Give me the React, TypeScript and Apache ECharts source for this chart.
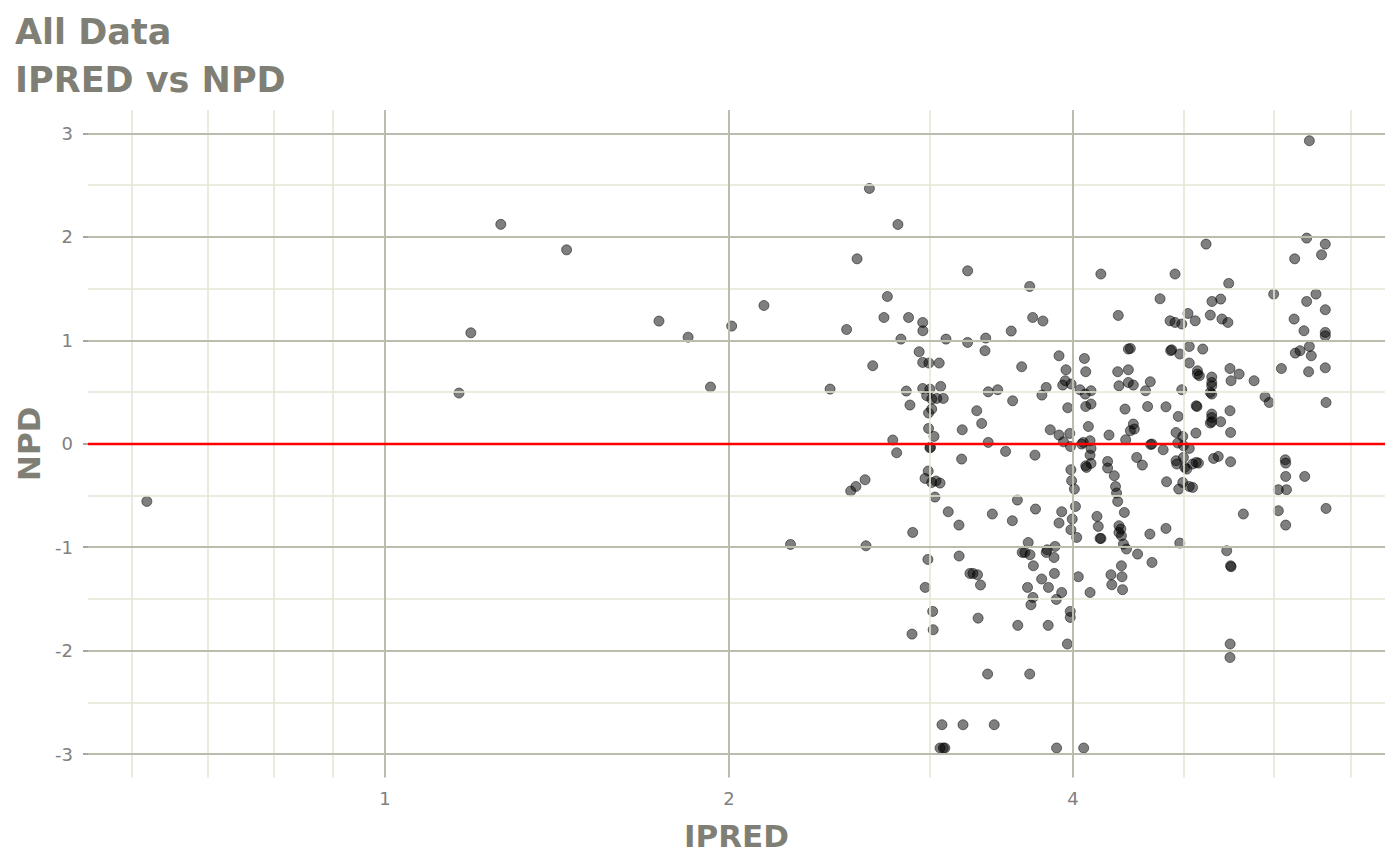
import React, { useEffect, useRef } from "react";
import * as echarts from "echarts";

const ipred: number[] = [
  0.619, 1.189, 1.161, 1.263, 1.442, 1.737, 1.842, 2.011, 2.146, 1.927, 2.264, 2.452,
  2.654, 2.811, 2.589, 3.235, 2.752, 2.733, 2.872, 2.535, 2.955, 2.956, 2.828, 3.097,
  3.235, 2.934, 2.672, 2.955, 2.992, 3.055, 2.859, 2.955, 2.998, 3.064, 2.979, 3.009,
  3.04, 3.08, 2.88, 3.009, 2.99, 3.2, 2.99, 3.023, 2.782, 2.998, 3.002, 2.804, 3.196,
  2.988, 2.969, 3.009, 3.035, 3.06, 2.631, 2.583, 2.556, 3.029, 3.111, 3.179, 2.896, 2.636,
  2.986, 3.18, 3.25, 2.97, 3.015, 3.018, 2.892, 3.072, 3.205, 3.06, 3.09, 3.08,
  3.666, 3.688, 3.765, 3.532, 3.355, 4.231, 4.382,
  3.35, 3.607, 3.889, 4.093, 3.944, 4.104, 4.377, 4.472, 3.938, 3.918, 3.985, 3.79,
  3.757, 3.372, 3.437, 3.542, 3.295, 3.328, 4.057, 4.1, 4.148, 4.104, 4.148, 3.958,
  4.126, 3.821, 3.889, 3.974, 3.924, 3.98, 4.07, 4.14, 4.148, 4.084, 4.14, 4.148, 4.11,
  4.104, 4.301, 4.442, 4.517, 4.526, 4.49, 4.448, 4.63, 4.649, 4.674, 4.388, 4.472,
  4.517, 4.677, 3.372, 3.492, 3.705, 4.289, 4.289, 4.548, 4.6, 3.983, 3.989, 4.011,
  4.347, 4.358, 4.367, 4.377, 3.576, 3.4, 3.709, 3.54, 3.91, 3.889, 4.02, 3.994, 3.983,
  4.03, 4.198, 4.209, 4.224, 4.232, 4.436, 4.388, 4.388, 4.41, 4.405, 4.67, 3.655,
  3.611, 3.63, 3.797, 3.858, 4.428, 4.455, 4.556, 4.472, 4.49,
  3.668, 3.79, 3.85, 3.693, 3.27, 3.3, 3.32, 3.853, 3.755, 3.65, 3.69, 3.675, 3.807,
  3.91, 3.868, 3.978, 3.978, 3.955, 4.043, 4.14, 3.304, 3.579, 3.805, 3.368, 3.666,
  3.413, 3.87, 4.087, 4.318, 4.325, 4.41, 4.415, 4.42, 4.69,
  6.44, 6.405, 6.65, 6.6, 6.252, 5.23, 4.913, 5.474, 4.767, 5.293, 5.386, 5.993, 6.526,
  6.405, 6.65, 5.043, 4.864, 4.913, 4.98, 5.117, 5.275, 5.4, 5.465, 6.245, 6.37, 6.65, 6.65,
  5.056, 5.195, 4.88, 4.87, 4.96, 5.056, 5.14, 5.16, 5.14, 5.29, 5.29, 5.29, 5.275, 5.29,
  5.488, 5.59, 5.5, 5.761, 4.98, 4.824, 5.127, 5.135, 4.945, 5.29, 5.29, 5.275, 5.29,
  5.386, 5.488, 5.124, 5.495, 4.923, 4.99, 4.69, 4.797, 4.94, 5.056, 4.997, 4.997, 4.923,
  4.93, 5.01, 5.03, 5.09, 5.15, 5.127, 5.31, 5.36, 5.495, 4.83, 4.95, 4.99, 5.056, 5.09,
  5.89, 5.94, 6.087, 6.26, 6.32, 6.44, 6.465, 6.43, 6.65, 6.66, 6.135, 6.14, 6.14, 6.38,
  6.05, 6.15, 6.05, 6.66, 6.14, 5.638, 4.824, 4.96, 5.452,
  5.495, 5.5, 5.49, 5.488,
];

const npd: number[] = [
  -0.557, 1.072, 0.49, 2.12, 1.874, 1.185, 1.03, 1.137, 1.336, 0.548, -0.973, 0.528,
  2.467, 2.119, 1.787, 1.671, 1.423, 1.22, 1.22, 1.104, 1.172, 1.092, 1.011, 1.011,
  0.979, 0.889, 0.754, 0.786, 0.78, 0.78, 0.509, 0.534, 0.528, 0.554, 0.464, 0.432,
  0.438, 0.438, 0.374, 0.335, 0.297, 0.135, 0.148, 0.071, 0.036, -0.039, -0.035, -0.087, -0.148,
  -0.264, -0.335, -0.374, -0.36, -0.38, -0.348, -0.413, -0.457, -0.515, -0.657, -0.786, -0.857, -0.986,
  -1.118, -1.085, -1.253, -1.388, -1.62, -1.797, -1.839, -2.715, -2.715, -2.94, -2.94, -2.94,
  1.52, 1.22, 1.186, 1.089, 1.021, 1.64, 1.24,
  0.899, 0.744, 0.85, 0.824, 0.715, 0.696, 0.696, 0.715, 0.609, 0.567, 0.577, 0.544,
  0.47, 0.502, 0.522, 0.415, 0.319, 0.196, 0.522, 0.48, 0.512, 0.36, 0.384, 0.348,
  0.167, 0.135, 0.084, 0.1, 0.019, -0.026, -0.003, 0.029, -0.045, 0.013, -0.11, -0.19, -0.229,
  -0.213, 0.084, 0.335, 0.19, 0.142, 0.126, 0.039, 0.512, 0.36, 0.599, 0.56, 0.592,
  0.567, -0.007, 0.013, -0.074, -0.11, -0.171, -0.235, -0.132, -0.206, -0.251, -0.357, -0.438,
  -0.309, -0.413, -0.476, -0.557, -0.544, -0.679, -0.631, -0.744, -0.657, -0.766, -0.606, -0.728, -0.831,
  -0.905, -0.702, -0.799, -0.915, -0.915, -0.664, -0.792, -0.857, -0.889, -0.824, -0.873, -0.954,
  -1.05, -1.05, -1.024, -0.992, -0.969, -1.017, -1.066, 0.915, 0.921,
  -1.072, -1.05, -1.099, -1.179, -1.253, -1.266, -1.365, -1.253, -1.307, -1.388, -1.485, -1.556, -1.388,
  -1.437, -1.504, -1.62, -1.678, -1.935, -1.285, -1.437, -1.685, -1.755, -1.755, -2.225, -2.225,
  -2.715, -2.94, -2.94, -1.266, -1.362, -1.179, -1.285, -1.41, -1.147,
  2.928, 1.987, 1.929, 1.826, 1.787, 1.929, 1.64, 1.549, 1.401, 1.375, 1.398, 1.446, 1.446,
  1.375, 1.295, 1.259, 1.188, 1.172, 1.157, 1.188, 1.243, 1.205, 1.172, 1.205, 1.092, 1.076, 1.043,
  0.94, 0.915, 0.908, 0.9, 0.867, 0.78, 0.705, 0.657, 0.673, 0.644, 0.592, 0.56, 0.496, 0.48,
  0.727, 0.673, 0.609, 0.609, 0.522, 0.357, 0.367, 0.36, 0.264, 0.287, 0.254, 0.2, 0.213,
  0.213, 0.319, 0.103, 0.109, 0.109, 0.071, -0.003, -0.058, 0.007, -0.045, -0.019, -0.132, -0.164,
  -0.196, -0.229, -0.245, -0.196, -0.187, -0.18, -0.142, -0.123, -0.174, -0.367, -0.438, -0.374, -0.413, -0.422,
  0.454, 0.399, 0.727, 0.876, 0.899, 0.94, 0.85, 0.696, 0.734, 0.399, -0.155, -0.187, -0.316, -0.316,
  -0.444, -0.444, -0.647, -0.625, -0.786, -0.679, -0.818, -0.96, -1.034,
  -1.179, -1.188, -1.935, -2.065,
];

const titleLines = ["All Data", "IPRED vs NPD"];
const xTitle = "IPRED";
const yTitle = "NPD";
const xMajorBreaks = [1, 2, 4];
const xMinorBreaks = [0.6, 0.7, 0.8, 0.9, 3, 5, 6, 7];
const yMajorBreaks = [-3, -2, -1, 0, 1, 2, 3];
const yMinorBreaks = [-2.5, -1.5, -0.5, 0.5, 1.5, 2.5];
const referenceLine = 0;
const xLimits = [0.5498, 7.5];
const yLimits = [-3.225, 3.225];

const FONT = "DejaVu Sans";
const MAJOR = "#bcbcae";
const MINOR = "#e5e6d6";
const TEXT = "#7f7f75";

export default function App() {
  const ref = useRef<HTMLDivElement>(null);

  useEffect(() => {
    if (!ref.current) return;
    const chart = echarts.init(ref.current, null, { renderer: "svg" });

    const gridLines: any[] = [
      ...xMinorBreaks.map((v) => ({ xAxis: v, lineStyle: { color: MINOR, width: 1.6, type: "solid" } })),
      ...yMinorBreaks.map((v) => ({ yAxis: v, lineStyle: { color: MINOR, width: 1.6, type: "solid" } })),
      ...xMajorBreaks.map((v) => ({ xAxis: v, lineStyle: { color: MAJOR, width: 2, type: "solid" } })),
      ...yMajorBreaks.map((v) => ({ yAxis: v, lineStyle: { color: MAJOR, width: 2, type: "solid" } })),
    ];

    const points = ipred.map((x, i) => [x, npd[i]]);

    chart.setOption({
      animation: false,
      title: {
        text: titleLines.join("\n"),
        left: 15,
        top: 8,
        padding: 0,
        textStyle: {
          fontFamily: FONT,
          fontSize: 35,
          fontWeight: "bold",
          color: TEXT,
          lineHeight: 48,
        },
      },
      grid: { left: 88, right: 15, top: 110, bottom: 87.5 },
      xAxis: {
        type: "log",
        logBase: 2,
        min: xLimits[0],
        max: xLimits[1],
        name: xTitle,
        nameLocation: "middle",
        nameGap: 43,
        nameTextStyle: { fontFamily: FONT, fontSize: 31, fontWeight: "bold", color: TEXT },
        axisLine: { show: false },
        axisTick: {
          show: true,
          customValues: xMajorBreaks,
          length: 5,
          lineStyle: { color: "#8a8a8a", width: 1.5 },
        },
        axisLabel: {
          customValues: xMajorBreaks,
          fontFamily: FONT,
          fontSize: 18,
          color: "#808080",
          margin: 12,
        },
        splitLine: { show: false },
      },
      yAxis: {
        type: "value",
        min: yLimits[0],
        max: yLimits[1],
        name: yTitle,
        nameLocation: "middle",
        nameGap: 43,
        nameRotate: 90,
        nameTextStyle: { fontFamily: FONT, fontSize: 31, fontWeight: "bold", color: TEXT },
        axisLine: { show: false },
        axisTick: {
          show: true,
          customValues: yMajorBreaks,
          length: 5,
          lineStyle: { color: "#8a8a8a", width: 1.5 },
        },
        axisLabel: {
          customValues: yMajorBreaks,
          fontFamily: FONT,
          fontSize: 18,
          color: "#808080",
          margin: 15,
        },
        splitLine: { show: false },
      },
      series: [
        {
          type: "scatter",
          data: [],
          z: 1,
          silent: true,
          markLine: {
            silent: true,
            symbol: "none",
            animation: false,
            label: { show: false },
            data: gridLines,
          },
        },
        {
          type: "scatter",
          data: points,
          z: 3,
          symbol: "circle",
          symbolSize: 10,
          itemStyle: {
            color: "rgba(0,0,0,0.5)",
            borderColor: "rgba(0,0,0,0.5)",
            borderWidth: 1,
            opacity: 1,
          },
        },
        {
          type: "scatter",
          data: [],
          z: 4,
          silent: true,
          markLine: {
            silent: true,
            symbol: "none",
            animation: false,
            label: { show: false },
            lineStyle: { color: "#ff0000", width: 2.4, type: "solid" },
            data: [{ yAxis: referenceLine }],
          },
        },
      ],
    });

    return () => chart.dispose();
  }, []);

  return (
    <div
      ref={ref}
      style={{ position: "fixed", left: 0, top: 0, width: 1400, height: 865, background: "#ffffff" }}
    />
  );
}
